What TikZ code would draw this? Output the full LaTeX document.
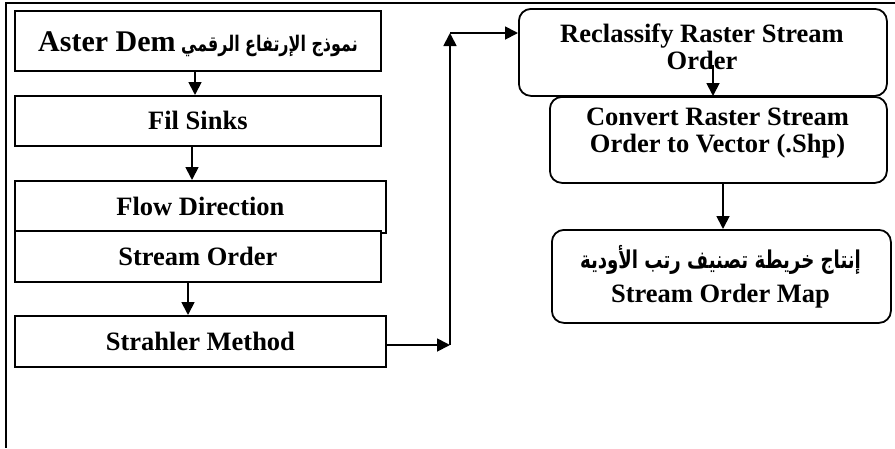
\documentclass[tikz,border=0pt]{standalone}
\usepackage{fontspec}
\setmainfont{Liberation Serif}
\newfontfamily\arabicfont[Script=Arabic,FakeStretch=0.74]{DejaVu Sans}
\TeXXeTstate=1
\usetikzlibrary{arrows.meta,calc}
\newcommand{\latfont}{\fontsize{26.5}{27}\selectfont}
\newcommand{\arfont}[1]{\arabicfont\fontsize{#1}{27}\selectfont}
\begin{document}
\begin{tikzpicture}[x=1pt,y=-1pt,
  box/.style={draw,line width=1.8pt,inner sep=0pt},
  rbox/.style={box,rounded corners=12pt},
  txt/.style={font=\bfseries\latfont,align=center,inner sep=0pt},
  arr/.style={line width=1.8pt,-{Triangle[length=13pt,width=13pt]}}]
\useasboundingbox (0,0) rectangle (895,448);
\draw[line width=2pt] (895,3) -- (6,3) -- (6,448);

% left column
\node[box,minimum width=366,minimum height=60,anchor=north west] (b1) at (14,10) {};
\node[txt] (t0) at (198,44)
  {\arfont{21.5}\beginR نموذج الإرتفاع الرقمي \beginL{\rmfamily\fontsize{30}{30}\selectfont Aster Dem}\endL\endR};
\node[box,txt,minimum width=366,minimum height=50,anchor=north west] (b2) at (14,95) {Fil Sinks};
\node[box,txt,minimum width=371,minimum height=52,anchor=north west] (b3) at (14,180) {Flow Direction};
\node[box,txt,minimum width=366,minimum height=51,anchor=north west,fill=white] (b4) at (14,230) {Stream Order};
\node[box,txt,minimum width=371,minimum height=51,anchor=north west] (b5) at (14,315) {Strahler Method};

\draw[arr] (b1.south -| 195,0) -- (b2.north -| 195,0);
\draw[arr] (b2.south -| 192,0) -- (b3.north -| 192,0);
\draw[arr] (b4.south -| 188,0) -- (b5.north -| 188,0);

% right column
\node[rbox,minimum width=368,minimum height=87,anchor=north west] (r1) at (518,8) {};
\node[txt] (t1) at (702,47) {Reclassify Raster Stream\\Order};
\node[rbox,minimum width=337,minimum height=86,anchor=north west] (r2) at (549,96) {};
\node[txt] (t2) at (717.5,133) {Convert Raster Stream\\Order to Vector (.Shp)};
\node[rbox,minimum width=339,minimum height=93,anchor=north west] (r3) at (551,229) {};
\node[txt] (t3) at (720.5,277)
  {{\arfont{24.5}\beginR إنتاج خريطة تصنيف رتب الأودية\endR}\\[7pt]Stream Order Map};

% connectors
\coordinate (c1) at (450,345);
\coordinate (c2) at (450,33);
\draw[arr] (b5.east |- c1) -- (c1);
\draw[arr] (c1) -- (c2);
\draw[arr] (c2) -- (r1.west |- c2);
\coordinate (a1) at (713,65);
\draw[arr] (a1) -- (a1 |- r2.north);
\draw[arr] (r2.south -| 723,0) -- (r3.north -| 723,0);
\end{tikzpicture}
\end{document}
